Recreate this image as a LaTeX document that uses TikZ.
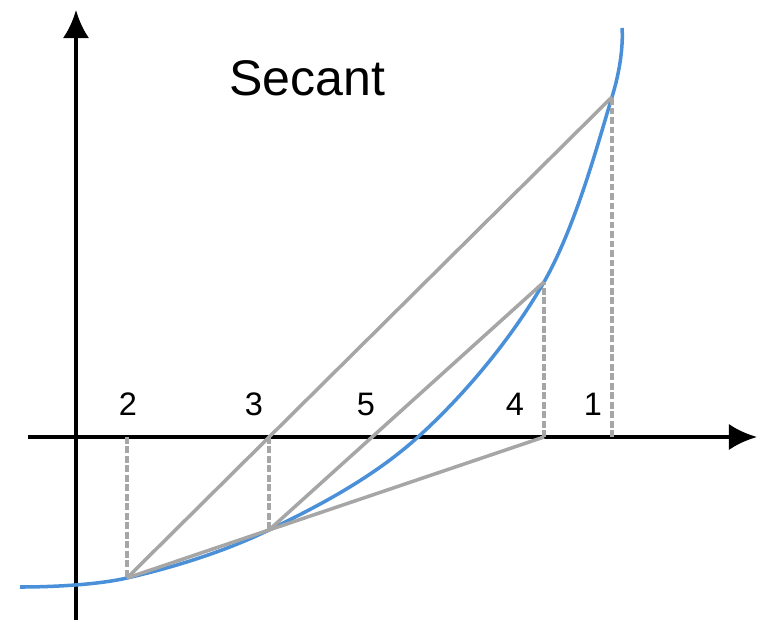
\documentclass[tikz,border=0pt]{standalone}
\usepackage{fontspec}
\setmainfont{Liberation Sans}
\usepackage{xcolor}
\usepackage{tikz}
\usetikzlibrary{arrows.meta, positioning}

\definecolor{curveblue}{RGB}{74,144,217}
\definecolor{linegray}{RGB}{166,166,166}

\begin{document}
\begin{tikzpicture}[>={Latex[length=16pt,width=15pt]},
    secline/.style={linegray, line width=2pt},
    dropline/.style={linegray, line width=2pt, dash pattern=on 3.8pt off 1.6pt},
    lbl/.style={font=\fontsize{18.5}{20}\selectfont}]
    \useasboundingbox (-1.52,-3.72) rectangle (13.74,8.74);

    % 1. Axes
    \coordinate (xs) at (-0.96,0);
    \coordinate (xe) at (13.62,0);
    \coordinate (ys) at (0,-3.66);
    \coordinate (ye) at (0,8.54);
    \draw[->, line width=2.3pt] (xs) -- (xe);
    \draw[->, line width=2.3pt] (ys) -- (ye);

    % 2. Points on the curve and on the axis
    \coordinate (p1) at (10.72,6.80);
    \coordinate (p2) at (1.02,-2.82);
    \coordinate (p3) at (3.86,-1.86);
    \coordinate (p4) at (9.36,3.10);
    \coordinate (x1) at (10.72,0);
    \coordinate (x2) at (1.02,0);
    \coordinate (x3) at (3.86,0);
    \coordinate (x4) at (9.36,0);
    \coordinate (x5) at (5.92,0);

    % 3. Curve
    \draw[curveblue, line width=2pt] plot[smooth, tension=0.6]
        coordinates {(-1.12,-3.0) (p2) (p3) (6.84,0) (p4) (p1) (10.92,8.18)};

    % 4. Secant lines
    \draw[secline] (p2) -- (p1);
    \draw[secline] (p2) -- (x4);
    \draw[secline] (p3) -- (p4);

    % 5. Dashed drops
    \draw[dropline] (x2) -- (p2);
    \draw[dropline] (x3) -- (p3);
    \draw[dropline] (x4) -- (p4);
    \draw[dropline] (x1) -- (p1);

    % 6. Labels
    \node[lbl] (l2) at (1.04,0.66) {2};
    \node[lbl] (l3) at (3.56,0.66) {3};
    \node[lbl] (l5) at (5.80,0.66) {5};
    \node[lbl] (l4) at (8.78,0.66) {4};
    \node[lbl] (l1) at (10.34,0.66) {1};
    \node[font=\fontsize{28.5}{32}\selectfont] (title) at (4.62,7.18) {Secant};
\end{tikzpicture}
\end{document}
